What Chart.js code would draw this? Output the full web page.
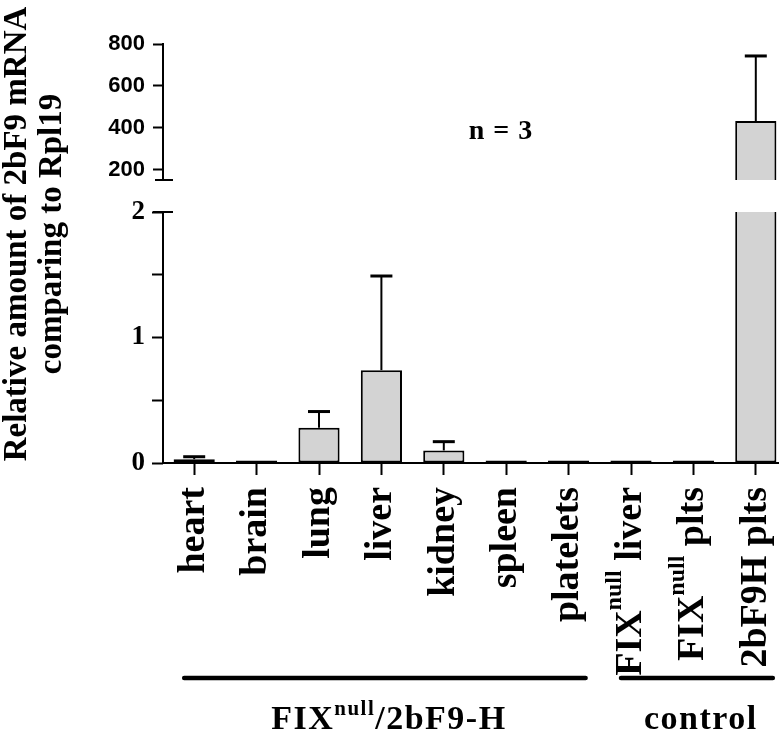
<!DOCTYPE html>
<html>
<head>
<meta charset="utf-8">
<script src="https://cdn.jsdelivr.net/npm/chart.js@4.4.0/dist/chart.umd.min.js"></script>
<style>
  html, body { margin: 0; padding: 0; background: #fff; overflow: hidden; }
  #wrap { width: 779px; height: 738px; overflow: hidden; }
</style>
</head>
<body>
<div id="wrap"><canvas id="chart" width="800" height="738"></canvas></div>
<script>
// {..} marks superscript text
const categories = ['heart', 'brain', 'lung', 'liver', 'kidney', 'spleen', 'platelets', 'FIX{null} liver', 'FIX{null} plts', '2bF9H plts'];
const means = [0.03, 0.02, 0.28, 0.74, 0.10, 0.02, 0.02, 0.02, 0.02, 433];
const sems = [0.02, 0, 0.13, 0.75, 0.07, 0, 0, 0, 0, 310];

const lowTicks = [0, 0.5, 1, 1.5, 2];
const lowTickLabels = ['0', '', '1', '', '2'];
const highTicks = [200, 400, 600, 800];

const breakLow = 2;
const breakHigh = 152;

const groupLabels = ['FIX{null}/2bF9-H', 'control'];
const groupFirst = [0, 7];
const groupLast = [6, 9];
const noteText = 'n = 3';
const titleLines = ['Relative amount of 2bF9 mRNA', 'comparing to Rpl19'];

const serif = '"Liberation Serif", "Times New Roman", serif';
const sans = '"Liberation Sans", Arial, sans-serif';

function drawRich(ctx, text, size, align) {
  // split into normal / superscript parts
  const parts = [];
  text.split(/(\{[^}]*\})/).forEach((p) => {
    if (!p) return;
    if (p[0] === '{') parts.push({ t: p.slice(1, -1), sup: true });
    else parts.push({ t: p, sup: false });
  });
  const supSize = Math.round(size * 0.62);
  let total = 0;
  parts.forEach((p) => {
    ctx.font = 'bold ' + (p.sup ? supSize : size) + 'px ' + serif;
    p.w = ctx.measureText(p.t).width;
    total += p.w;
  });
  let x = align === 'right' ? -total : align === 'center' ? -total / 2 : 0;
  ctx.textAlign = 'left';
  parts.forEach((p) => {
    ctx.font = 'bold ' + (p.sup ? supSize : size) + 'px ' + serif;
    ctx.fillText(p.t, x, p.sup ? -size * 0.42 : 0);
    x += p.w;
  });
}

const extrasPlugin = {
  id: 'extras',
  afterDatasetsDraw(chart) {
    const { ctx, scales } = chart;
    ctx.save();
    ctx.strokeStyle = '#000';
    means.forEach((m, i) => {
      if (!sems[i]) return;
      const top = m + sems[i];
      const axis = top > breakLow ? scales.yHigh : scales.yLow;
      const x = scales.x.getPixelForValue(i);
      const y0 = axis.getPixelForValue(m);
      const y1 = axis.getPixelForValue(top);
      ctx.lineWidth = 2;
      ctx.beginPath();
      ctx.moveTo(x, y0);
      ctx.lineTo(x, y1);
      ctx.stroke();
      ctx.lineWidth = 3;
      ctx.beginPath();
      ctx.moveTo(x - 11, y1);
      ctx.lineTo(x + 11, y1);
      ctx.stroke();
    });
    ctx.restore();
  },
  afterDraw(chart) {
    const { ctx, scales } = chart;
    const xs = scales.x;
    const axisX = scales.yLow.right;
    ctx.save();
    ctx.strokeStyle = '#000';
    ctx.fillStyle = '#000';

    // lower axis line and break caps
    const yTopLow = scales.yLow.getPixelForValue(breakLow);
    ctx.lineWidth = 2;
    ctx.beginPath();
    ctx.moveTo(axisX, yTopLow);
    ctx.lineTo(axisX, scales.yLow.getPixelForValue(0));
    ctx.stroke();
    ctx.beginPath();
    ctx.moveTo(axisX - 10, yTopLow);
    ctx.lineTo(axisX + 10, yTopLow);
    const yBottomHigh = scales.yHigh.getPixelForValue(breakHigh);
    ctx.moveTo(axisX - 8, yBottomHigh);
    ctx.lineTo(axisX + 10, yBottomHigh);
    ctx.stroke();

    // category labels
    ctx.textBaseline = 'middle';
    categories.forEach((c, i) => {
      const x = xs.getPixelForValue(i);
      ctx.save();
      ctx.translate(x, xs.top + 24);
      ctx.rotate(-Math.PI / 2);
      drawRich(ctx, c, 38, 'right');
      ctx.restore();
    });

    // group lines and labels
    ctx.lineWidth = 4.5;
    ctx.lineCap = 'round';
    groupLabels.forEach((g, k) => {
      const x0 = xs.getPixelForValue(groupFirst[k]) - 10;
      const x1 = xs.getPixelForValue(groupLast[k]) + 17;
      ctx.beginPath();
      ctx.moveTo(x0, 678);
      ctx.lineTo(x1, 678);
      ctx.stroke();
      ctx.save();
      ctx.translate((x0 + x1) / 2 + 4, 729);
      ctx.textBaseline = 'alphabetic';
      ctx.letterSpacing = '1.5px';
      drawRich(ctx, g, 34, 'center');
      ctx.restore();
    });

    // y title
    ctx.save();
    ctx.translate(17, 234);
    ctx.rotate(-Math.PI / 2);
    ctx.textAlign = 'center';
    ctx.textBaseline = 'middle';
    ctx.font = 'bold 33px ' + serif;
    ctx.fillText(titleLines[0], 0, 0);
    ctx.fillText(titleLines[1], 0, 35);
    ctx.restore();

    // note
    ctx.font = 'bold 28px ' + serif;
    ctx.textAlign = 'center';
    ctx.textBaseline = 'alphabetic';
    ctx.letterSpacing = '1px';
    ctx.fillText(noteText, 501, 139);
    ctx.restore();
  }
};

const lowData = means.map((m) => Math.min(m, breakLow));
const highData = means.map((m) => (m > breakLow ? [breakHigh, m] : null));

new Chart(document.getElementById('chart'), {
  type: 'bar',
  data: {
    labels: categories,
    datasets: [
      {
        data: lowData,
        yAxisID: 'yLow',
        grouped: false,
        backgroundColor: '#d3d3d3',
        borderColor: '#000',
        borderWidth: 2,
        borderSkipped: (c) => (means[c.dataIndex] > breakLow ? 'end' : false),
        barPercentage: 0.66,
        categoryPercentage: 1
      },
      {
        data: highData,
        yAxisID: 'yHigh',
        grouped: false,
        backgroundColor: '#d3d3d3',
        borderColor: '#000',
        borderWidth: 2,
        borderSkipped: 'start',
        barPercentage: 0.66,
        categoryPercentage: 1
      }
    ]
  },
  options: {
    responsive: false,
    animation: false,
    layout: { padding: { top: 44, right: 13, left: 0, bottom: 0 } },
    plugins: { legend: { display: false }, tooltip: { enabled: false } },
    scales: {
      x: {
        offset: true,
        grid: { offset: false, drawOnChartArea: false, color: '#000', tickLength: 12, tickWidth: 2 },
        border: { display: true, color: '#000', width: 2 },
        ticks: { display: false },
        afterFit: (s) => { s.height = 738 - 463; }
      },
      yLow: {
        type: 'linear',
        position: 'left',
        stack: 'v',
        stackWeight: 283,
        min: 0,
        max: 2.255,
        afterBuildTicks: (s) => { s.ticks = lowTicks.map((v) => ({ value: v })); },
        ticks: {
          color: '#000',
          padding: 7,
          font: { family: serif, size: 27, weight: 'bold' },
          callback: (v) => lowTickLabels[lowTicks.indexOf(v)]
        },
        grid: { drawOnChartArea: false, color: '#000', tickLength: 11, tickWidth: 2 },
        border: { display: false },
        afterFit: (s) => { s.width = 163; }
      },
      yHigh: {
        type: 'linear',
        position: 'left',
        stack: 'v',
        stackWeight: 136,
        min: breakHigh,
        max: 800,
        afterBuildTicks: (s) => { s.ticks = highTicks.map((v) => ({ value: v })); },
        ticks: {
          color: '#000',
          padding: 8,
          font: { family: sans, size: 22, weight: 'bold' },
          callback: (v) => String(v)
        },
        grid: { drawOnChartArea: false, color: '#000', tickLength: 10, tickWidth: 2 },
        border: { display: true, color: '#000', width: 2 },
        afterFit: (s) => { s.width = 163; }
      }
    }
  },
  plugins: [extrasPlugin]
});
</script>
</body>
</html>
